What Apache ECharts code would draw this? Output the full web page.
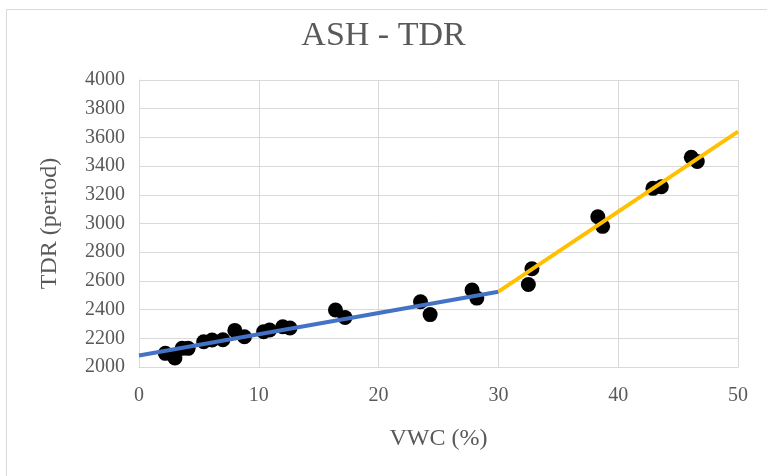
<!DOCTYPE html>
<html>
<head>
<meta charset="utf-8">
<script src="https://cdn.jsdelivr.net/npm/echarts@6/dist/echarts.min.js"></script>
<style>
  html, body { margin: 0; padding: 0; background: #ffffff; }
  #chart { width: 767px; height: 476px; }
</style>
</head>
<body>
<div id="chart"></div>
<script>
// Measured VWC (%) and TDR period readings
const vwc = [2.2, 3.0, 3.6, 4.1, 5.4, 6.1, 7.0, 8.0, 8.8, 10.4, 10.9, 12.0, 12.6,
             16.4, 17.2, 23.5, 24.3, 27.8, 28.2, 32.5, 32.8, 38.3, 38.7, 42.9, 43.6, 46.1, 46.6];
const tdr = [2095, 2063, 2130, 2130, 2176, 2188, 2190, 2255, 2211, 2246, 2258, 2280, 2272,
             2397, 2345, 2455, 2365, 2537, 2480, 2575, 2685, 3047, 2980, 3245, 3256, 3462, 3432];

// Piecewise calibration fit: dry segment and wet segment
const dryFitX = [0, 30];
const dryFitY = [2080, 2525];
const wetFitX = [30, 50];
const wetFitY = [2525, 3640];

// Axis ticks
const xTicks = [0, 10, 20, 30, 40, 50];
const yTicks = [2000, 2200, 2400, 2600, 2800, 3000, 3200, 3400, 3600, 3800, 4000];

const textColor = '#595959';
const gridColor = '#d9d9d9';
const serif = '"Liberation Serif", "Times New Roman", serif';

const pairs = (xs, ys) => xs.map((x, i) => [x, ys[i]]);

const chart = echarts.init(document.getElementById('chart'), null, { renderer: 'canvas' });
chart.setOption({
  animation: false,
  backgroundColor: '#ffffff',
  graphic: [{
    type: 'rect',
    shape: { x: 6.5, y: 9.5, width: 800, height: 500 },
    style: { fill: 'none', stroke: gridColor, lineWidth: 1 },
    silent: true,
    z: -10
  }],
  title: {
    text: 'ASH - TDR',
    left: 'center',
    top: 14,
    textStyle: { fontFamily: serif, fontSize: 34, fontWeight: 'normal', color: textColor }
  },
  grid: { left: 139, right: 29, top: 80, bottom: 109 },
  xAxis: {
    type: 'value',
    min: xTicks[0],
    max: xTicks[xTicks.length - 1],
    interval: xTicks[1] - xTicks[0],
    name: 'VWC (%)',
    nameLocation: 'middle',
    nameGap: 60,
    nameTextStyle: { fontFamily: serif, fontSize: 24, color: textColor },
    axisLine: { show: true, lineStyle: { color: gridColor, width: 1 } },
    axisTick: { show: false },
    axisLabel: { fontFamily: serif, fontSize: 20, color: textColor, margin: 19, formatter: v => String(v) },
    splitLine: { show: true, lineStyle: { color: gridColor, width: 1 } }
  },
  yAxis: {
    type: 'value',
    min: yTicks[0],
    max: yTicks[yTicks.length - 1],
    interval: yTicks[1] - yTicks[0],
    name: 'TDR (period)',
    nameLocation: 'middle',
    nameGap: 77,
    nameTextStyle: { fontFamily: serif, fontSize: 24, color: textColor },
    axisLine: { show: true, lineStyle: { color: gridColor, width: 1 } },
    axisTick: { show: false },
    axisLabel: { fontFamily: serif, fontSize: 20, color: textColor, margin: 14, formatter: v => String(v) },
    splitLine: { show: true, lineStyle: { color: gridColor, width: 1 } }
  },
  series: [
    {
      type: 'scatter',
      data: pairs(vwc, tdr),
      symbol: 'circle',
      symbolSize: 15,
      itemStyle: { color: '#000000', opacity: 1 },
      z: 2
    },
    {
      type: 'line',
      data: pairs(dryFitX, dryFitY),
      showSymbol: false,
      lineStyle: { color: '#4472c4', width: 4 },
      z: 3
    },
    {
      type: 'line',
      data: pairs(wetFitX, wetFitY),
      showSymbol: false,
      lineStyle: { color: '#ffc000', width: 4 },
      z: 3
    }
  ]
});
</script>
</body>
</html>
